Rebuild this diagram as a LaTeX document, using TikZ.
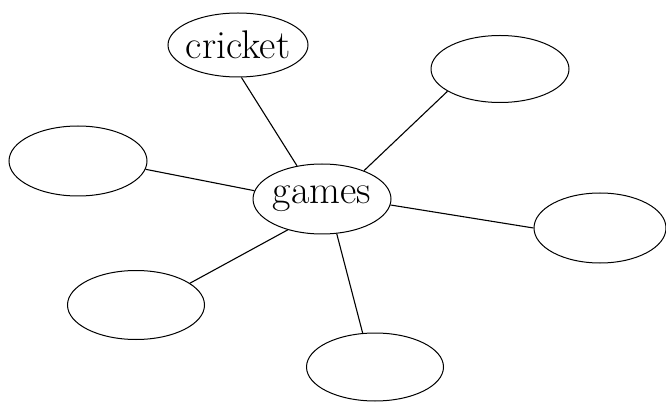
\documentclass[tikz,border=0pt]{standalone}
\usetikzlibrary{shapes.geometric}
\begin{document}
\begin{tikzpicture}[x=1pt,y=-1pt,
  bubble/.style={draw,ellipse,line width=1pt,inner sep=0pt,minimum width=138pt,minimum height=68pt,font=\fontsize{40}{44}\selectfont},
  link/.style={line width=1.1pt}]
\useasboundingbox (0,0) rectangle (666,403);
\node[bubble,minimum height=70pt] (games) at (322,199) {\makebox[0pt]{games}};
\node[bubble,minimum width=140pt,minimum height=64pt] (cricket) at (238,45) {\makebox[0pt]{cricket}};
\node[bubble,minimum height=67pt] (tr) at (500,69) {};
\node[bubble,minimum height=70pt] (l) at (78,161) {};
\node[bubble,minimum width=132pt,minimum height=70pt] (r) at (600,228) {};
\node[bubble,minimum width=137pt,minimum height=69pt] (bl) at (136,305) {};
\node[bubble,minimum width=137pt,minimum height=68pt] (b) at (375,367) {};
\draw[link] (cricket.276) -- (games.127);
\draw[link] (tr.203) -- (games.34);
\draw[link] (l.353) -- (games.173);
\draw[link] (r.180) -- (games.355);
\draw[link] (bl.22) -- (games.222);
\draw[link] (b.110) -- (games.293);
\end{tikzpicture}
\end{document}
